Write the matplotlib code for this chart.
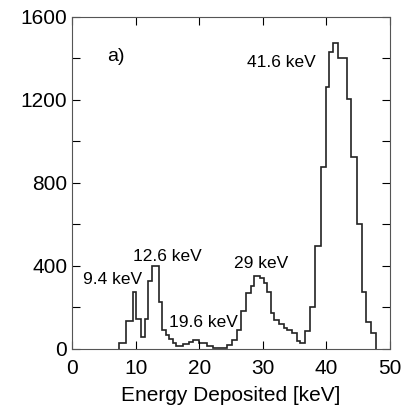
import matplotlib
matplotlib.use("Agg")
import matplotlib.pyplot as plt
from matplotlib.ticker import MultipleLocator

plt.rcParams['font.family'] = ['Liberation Sans', 'DejaVu Sans']

# bin edges (keV) and counts
edges = [7.4, 8.4, 9.5, 10.1, 10.9, 11.5, 12.0, 12.6, 13.7, 14.2,
         14.7, 15.3, 15.8, 16.4, 17.4, 18.4, 19.0, 20.0, 20.6, 21.2,
         22.2, 24.3, 25.2, 25.9, 26.5, 27.4, 28.1, 28.6, 29.6, 30.2,
         30.6, 31.3, 31.8, 32.5, 33.3, 33.8, 34.6, 35.4, 35.9, 36.7,
         37.5, 38.2, 39.1, 39.9, 40.4, 41.0, 41.8, 43.3, 43.9, 44.8,
         45.6, 46.3, 47.1, 47.9]
counts = [29, 133, 274, 144, 58, 144, 328, 397, 224, 93,
          69, 48, 29, 13, 24, 32, 45, 29, 29, 13,
          6, 21, 45, 93, 184, 269, 304, 352, 341, 317,
          276, 173, 141, 122, 101, 90, 77, 38, 26, 88,
          200, 494, 878, 1263, 1431, 1474, 1399, 1202, 926, 603,
          276, 130, 77]

peak_labels = ['9.4 keV', '12.6 keV', '19.6 keV', '29 keV', '41.6 keV']
label_x = [1.7, 9.5, 15.2, 25.4, 27.6]
label_y = [333, 443, 125, 410, 1378]

fig = plt.figure(figsize=(4.01, 4.09), dpi=100)
ax = fig.add_axes([0.18, 0.147, 0.792, 0.812])

ax.stairs(counts, edges, color='#222222', linewidth=1.2, baseline=0)

for txt, x, y in zip(peak_labels, label_x, label_y):
    ax.text(x, y, txt, fontsize=12.5, ha='left', va='center')
ax.text(5.5, 1407, 'a)', fontsize=14, ha='left', va='center')

ax.set_xlim(0, 50)
ax.set_ylim(0, 1600)
ax.xaxis.set_major_locator(MultipleLocator(10))
ax.yaxis.set_major_locator(MultipleLocator(400))
ax.yaxis.set_minor_locator(MultipleLocator(200))
ax.tick_params(which='both', direction='in', top=True, right=True, labelsize=15)
ax.tick_params(which='major', length=6, width=0.8)
ax.tick_params(which='minor', length=6, width=0.8)
ax.tick_params(axis='x', pad=7)
for s in ax.spines.values():
    s.set_color('#555555')
    s.set_linewidth(0.8)

ax.set_xlabel('Energy Deposited [keV]', fontsize=15, labelpad=6)

fig.savefig('out.png', dpi=100)
